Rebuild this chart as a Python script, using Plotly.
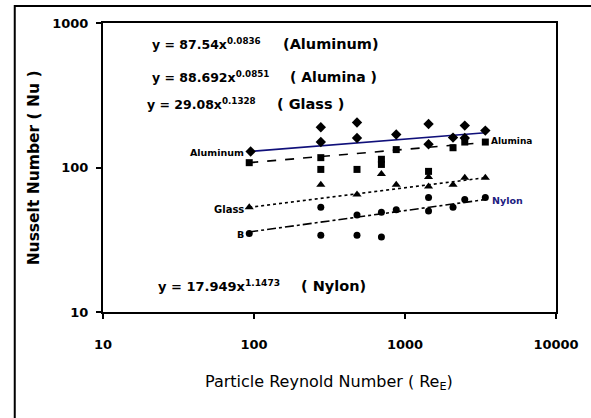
import plotly.graph_objects as go

W, H = 591, 418
L, R, T, B = 103, 565, 23, 312  # plot area in pixels

# ---- data ----
re_alu = [95, 277, 277, 481, 481, 875, 1432, 1432, 2080, 2488, 2488, 3404]
nu_alu = [129, 190, 150, 205, 160, 169, 200, 145, 161, 195, 160, 180]

re_alm = [93, 277, 277, 481, 698, 698, 875, 1432, 2080, 2488, 3404]
nu_alm = [108, 117, 97, 97, 114, 105, 133, 94, 137, 150, 150]

re_gls = [93, 277, 481, 698, 875, 1432, 1432, 2080, 2488, 3404]
nu_gls = [53, 76, 65, 90, 76, 74, 86, 76, 85, 85]

re_nyl = [93, 277, 277, 481, 481, 698, 698, 875, 1432, 1432, 2080, 2488, 3404]
nu_nyl = [35, 53, 34, 47, 34, 49, 33, 51, 50, 62, 53, 60, 62]

# trend line end points
trend_re = [93, 3400]
trend_alu = [129, 174]
trend_alm = [108, 149]
trend_gls = [53, 85]
trend_nyl = [35.8, 60]

FONT = "DejaVu Sans, Verdana, sans-serif"

def px(x):
    return (x - L) / (R - L)

def py(y):
    return (B - y) / (B - T)

fig = go.Figure()

def scatter(x, y, sym, size=7):
    fig.add_trace(go.Scatter(x=x, y=y, mode="markers",
                             marker=dict(symbol=sym, size=size, color="black"),
                             showlegend=False, hoverinfo="skip"))

def trend(y, dash, color="black"):
    fig.add_trace(go.Scatter(x=trend_re, y=y, mode="lines",
                             line=dict(color=color, width=1.6, dash=dash),
                             showlegend=False, hoverinfo="skip"))

trend(trend_alu, "solid", "#10107a")
trend(trend_alm, "dash")
trend(trend_gls, "dot")
trend(trend_nyl, "dashdot")
scatter(re_alu, nu_alu, "diamond", 8)
scatter(re_alm, nu_alm, "square", 7)
scatter(re_gls, nu_gls, "triangle-up", 8)
scatter(re_nyl, nu_nyl, "circle", 7)

ann = []
def text(x, y, s, size=12, bold=True, xanchor="left", color="black", angle=0):
    ann.append(dict(x=px(x), y=py(y), xref="paper", yref="paper", text=s,
                    showarrow=False, xanchor=xanchor, yanchor="middle",
                    textangle=angle,
                    font=dict(family=FONT, size=size, color=color,
                              weight="bold" if bold else "normal")))

# equations
text(151, 44, "y = 87.54x<sup>0.0836</sup>", 12.5)
text(285, 44, "(Aluminum)", 14.5)
text(151, 77, "y = 88.692x<sup>0.0851</sup>", 12.5)
text(292, 77, "( Alumina )", 14)
text(146, 104, "y = 29.08x<sup>0.1328</sup>", 12.5)
text(278, 104, "( Glass )", 14.5)
text(157, 286, "y = 17.949x<sup>1.1473</sup>", 13)
text(303, 286, "( Nylon)", 14.5)

# data labels near the trend lines
text(249, 152, "Aluminum", 9.5, xanchor="right")
text(249, 209, "Glass", 10, xanchor="right")
text(249, 234, "B", 9.5, xanchor="right")
text(497, 141, "Alumina", 9)
text(498, 200, "Nylon", 9.5, color="#202080")

# axis titles
text(33, 168, "Nusselt Number ( Nu )", 15.5, xanchor="center", angle=-90)
text(333, 382, "Particle Reynold Number ( Re<sub>E</sub>)", 16, bold=False,
     xanchor="center")

axis_common = dict(type="log", showgrid=False, zeroline=False,
                   showline=True, linecolor="black", linewidth=2, mirror=True,
                   ticks="outside", ticklen=5, tickwidth=1.5, tickcolor="black")

fig.update_layout(
    width=W, height=H,
    margin=dict(l=L, r=W - R, t=T, b=H - B),
    paper_bgcolor="white", plot_bgcolor="white",
    xaxis=dict(axis_common, range=[1, 4], tickvals=[10, 100, 1000, 10000],
               ticktext=["10", "100", "1000", "10000"], ticklabelstandoff=14,
               tickfont=dict(family=FONT, size=13, color="black", weight="bold")),
    yaxis=dict(axis_common, range=[1, 3], tickvals=[10, 100, 1000],
               ticktext=["10", "100", "1000"], ticklabelstandoff=5,
               tickfont=dict(family=FONT, size=13, color="black", weight="bold")),
    annotations=ann,
    shapes=[dict(type="rect", xref="paper", yref="paper",
                 x0=px(13), x1=px(W + 30), y0=py(H + 30), y1=py(6),
                 line=dict(color="black", width=2))],
    showlegend=False,
)

fig.write_html("out.html")
